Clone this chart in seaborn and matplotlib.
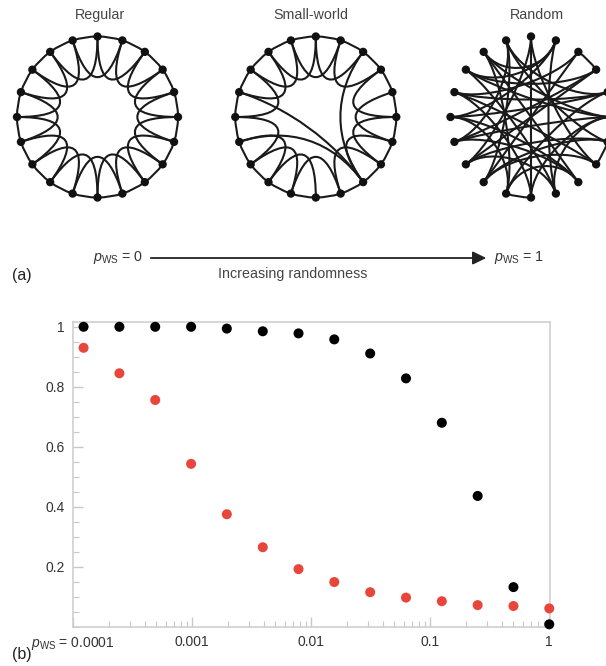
import numpy as np
import pandas as pd
import matplotlib
matplotlib.use('Agg')
import matplotlib.pyplot as plt
import seaborn as sns
from matplotlib.path import Path
from matplotlib.patches import PathPatch, FancyArrowPatch
from matplotlib.ticker import LogLocator, NullFormatter, MultipleLocator

# ---- data: panel (b) ----
p_ws = [0.000122, 0.000244, 0.000488, 0.000977, 0.00195, 0.00391, 0.00781,
        0.0156, 0.03125, 0.0625, 0.125, 0.25, 0.5, 1.0]
clustering = [1.0, 1.0, 1.0, 1.0, 0.994, 0.985, 0.978,
              0.958, 0.911, 0.828, 0.68, 0.436, 0.132, 0.008]
path_length = [0.93, 0.845, 0.756, 0.543, 0.375, 0.265, 0.192,
               0.149, 0.115, 0.097, 0.085, 0.072, 0.069, 0.061]
x_ticks = [0.0001, 0.001, 0.01, 0.1, 1]
x_labels = [r'$p_{\mathrm{WS}}$ = 0.0001', '0.001', '0.01', '0.1', '1']
y_ticks = [0.2, 0.4, 0.6, 0.8, 1.0]
y_labels = ['0.2', '0.4', '0.6', '0.8', '1']

# ---- data: panel (a) networks ----
n_nodes = 20
lattice_offsets = [1, 2]
sw_removed = [(8, 10), (2, 4), (14, 16)]
sw_added = [(14, 8), (2, 8), (16, 8)]
random_edges = [
    (0, 10), (0, 13), (0, 7), (1, 9), (1, 15), (1, 18), (2, 3), (2, 12), (2, 16), (3, 17),
    (3, 14), (4, 11), (4, 15), (4, 19), (5, 14), (5, 17), (5, 9), (6, 7), (6, 13), (6, 19),
    (7, 16), (7, 12), (8, 14), (8, 18), (8, 11), (9, 17), (9, 13), (10, 11), (10, 16), (10, 5),
    (11, 18), (12, 19), (12, 6), (13, 3), (14, 19), (15, 8), (15, 11), (16, 4), (17, 1), (18, 5)]
titles = ['Regular', 'Small-world', 'Random']

regular_edges = [(i, (i + k) % n_nodes) for i in range(n_nodes) for k in lattice_offsets]
sw_edges = [e for e in regular_edges if e not in sw_removed] + sw_added

sns.set_theme(style='white')
plt.rcParams['font.family'] = ['Liberation Sans', 'DejaVu Sans']
plt.rcParams['mathtext.fontset'] = 'custom'
plt.rcParams['mathtext.rm'] = 'Liberation Sans'
plt.rcParams['mathtext.it'] = 'Liberation Sans:italic'

W, H = 606, 666
fig = plt.figure(figsize=(W / 100, H / 100), dpi=100)


def draw_network(ax, edges, bend):
    ang = np.deg2rad(90 - 18 * np.arange(n_nodes))
    pos = np.c_[np.cos(ang), np.sin(ang)]
    for i, j in edges:
        p0, p3 = pos[i], pos[j]
        d = (j - i) % n_nodes
        if d in (1, n_nodes - 1):
            mid = (p0 + p3) / 2
            ctrl = mid / np.linalg.norm(mid) / np.cos(np.deg2rad(9))
            path = Path([p0, ctrl, p3], [Path.MOVETO, Path.CURVE3, Path.CURVE3])
        else:
            path = Path([p0, p0 * (1 - bend), p3 * (1 - bend), p3],
                        [Path.MOVETO, Path.CURVE4, Path.CURVE4, Path.CURVE4])
        ax.add_patch(PathPatch(path, fc='none', ec='#1a1a1a', lw=1.5, zorder=2))
    sns.scatterplot(x=pos[:, 0], y=pos[:, 1], ax=ax, color='#111111', s=36,
                    edgecolor='none', zorder=3, legend=False)
    ax.set_xlim(-1.242, 1.242)
    ax.set_ylim(-1.242, 1.242)
    ax.set_axis_off()


centers = [(97.5, 117), (315.8, 117), (531, 117)]
title_x = [99.5, 311, 537]
for (cx, cy), edges, bend, t, tx in zip(centers, [regular_edges, sw_edges, random_edges],
                                         [0.64, 0.64, 0.4], titles, title_x):
    ax = fig.add_axes([(cx - 100) / W, (H - cy - 100) / H, 200 / W, 200 / H])
    draw_network(ax, edges, bend)
    fig.text(tx / W, 1 - 15 / H, t, ha='center', va='center', fontsize=10.3, color='#444444')

# arrow and labels for panel (a)
arr_y = 1 - 258 / H
fig.add_artist(FancyArrowPatch((148 / W, arr_y), (489 / W, arr_y), transform=fig.transFigure,
                               arrowstyle='-|>,head_length=0.45,head_width=0.22',
                               mutation_scale=18, color='#222222', lw=1.3))
fig.text(143 / W, arr_y, r'$p_{\mathrm{WS}}$ = 0', ha='right', va='center', fontsize=10.3, color='#333333')
fig.text(494 / W, arr_y, r'$p_{\mathrm{WS}}$ = 1', ha='left', va='center', fontsize=10.3, color='#333333')
fig.text(293 / W, 1 - 274 / H, 'Increasing randomness', ha='center', va='center',
         fontsize=10.3, color='#444444')
fig.text(12 / W, 1 - 275 / H, '(a)', ha='left', va='center', fontsize=11.5, color='#222222')
fig.text(12 / W, 1 - 655 / H, '(b)', ha='left', va='center', fontsize=11.5, color='#222222')

# ---- panel (b) ----
ax = fig.add_axes([73.3 / W, (H - 626.7) / H, (550 - 73.3) / W, (626.7 - 321.7) / H])
df = pd.DataFrame({'p': p_ws, 'C': clustering, 'L': path_length})
sns.scatterplot(data=df, x='p', y='C', ax=ax, color='#000000', s=52, edgecolor='none',
                clip_on=False, zorder=3, legend=False)
sns.scatterplot(data=df, x='p', y='L', ax=ax, color='#e8463b', s=52, edgecolor='none',
                clip_on=False, zorder=3, legend=False)
ax.set_xscale('log')
ax.set_xlim(0.0001, 1.014)
ax.set_ylim(0, 1.017)
ax.set_xticks(x_ticks)
ax.set_xticklabels(x_labels)
ax.xaxis.set_minor_locator(LogLocator(base=10, subs=np.arange(2, 10)))
ax.xaxis.set_minor_formatter(NullFormatter())
ax.set_yticks(y_ticks)
ax.set_yticklabels(y_labels)
ax.yaxis.set_minor_locator(MultipleLocator(0.05))
ax.set_xlabel('')
ax.set_ylabel('')
for s in ax.spines.values():
    s.set_color('#cfcfcf')
    s.set_linewidth(1.2)
ax.tick_params(axis='both', which='major', direction='in', length=7, width=1,
               color='#c8c8c8', labelsize=10, labelcolor='#333333', pad=6)
ax.tick_params(axis='both', which='minor', direction='in', length=4, width=0.8,
               color='#c8c8c8')
ax.tick_params(bottom=True, left=True, top=False, right=False)
ax.tick_params(which='minor', bottom=True, left=True, top=False, right=False)

fig.savefig('out.png', dpi=100)
